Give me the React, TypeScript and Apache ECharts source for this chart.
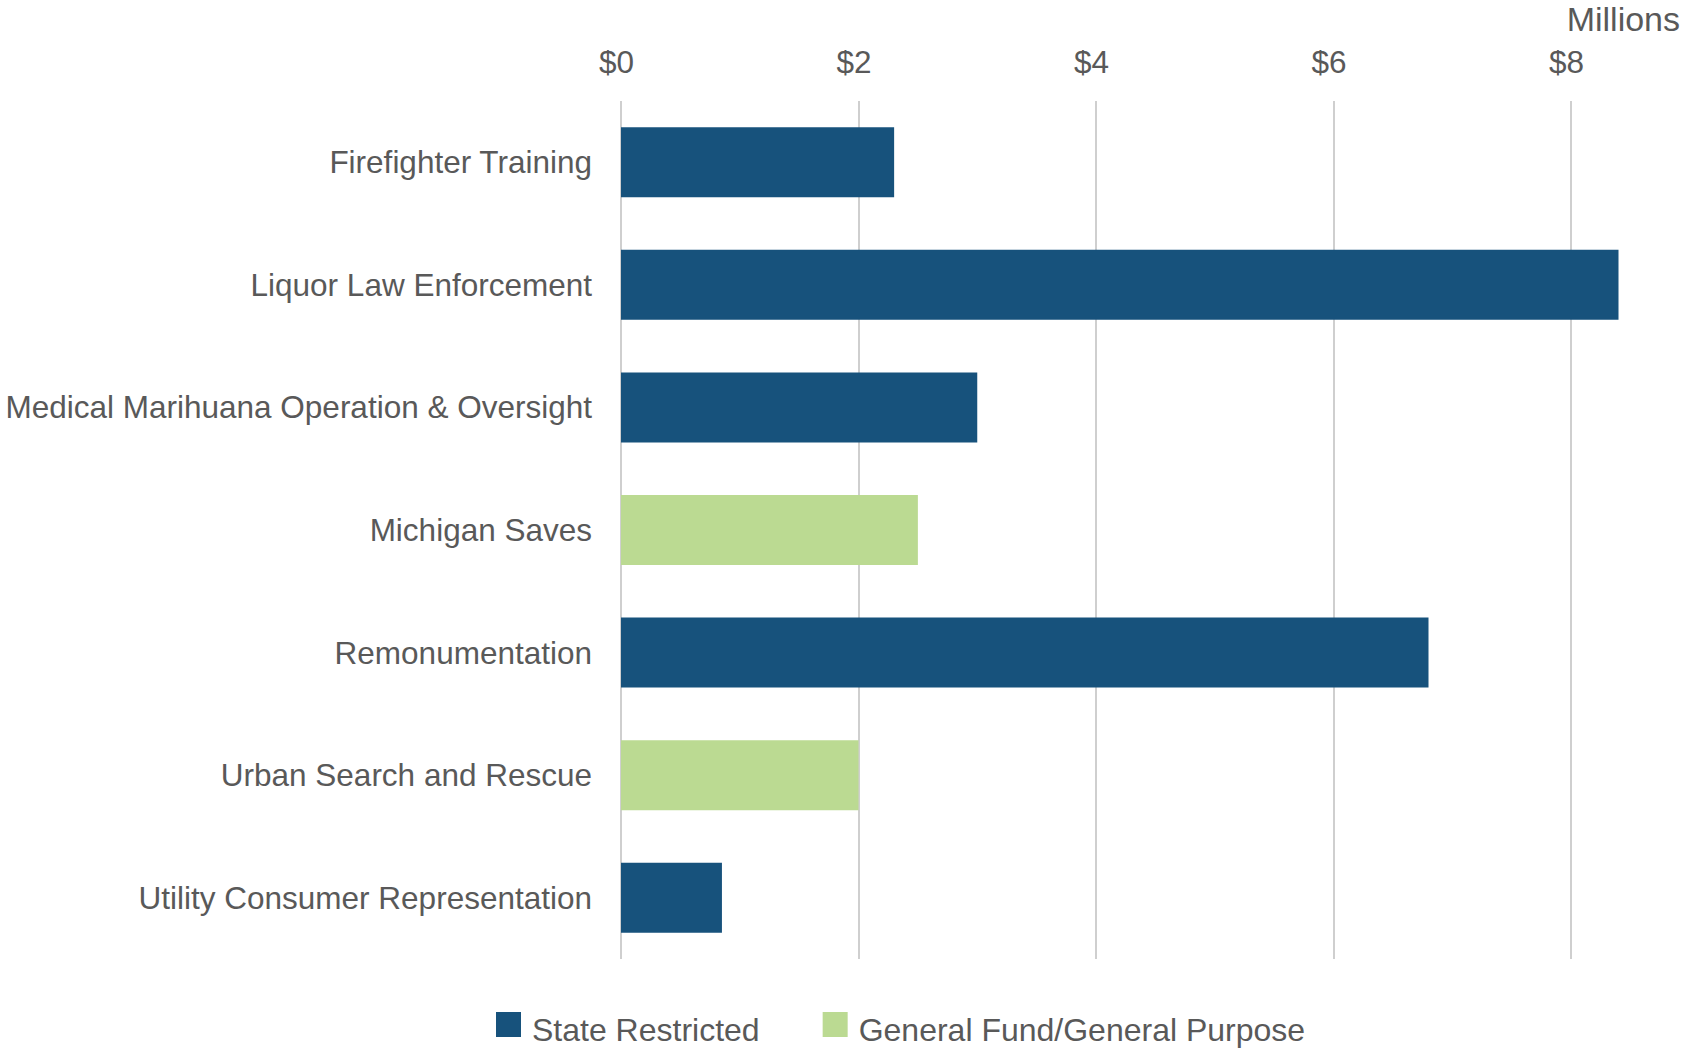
import React, { useEffect, useRef } from "react";
import * as echarts from "echarts";

const categories = [
  "Firefighter Training",
  "Liquor Law Enforcement",
  "Medical Marihuana Operation & Oversight",
  "Michigan Saves",
  "Remonumentation",
  "Urban Search and Rescue",
  "Utility Consumer Representation",
];
const stateRestricted: (number | null)[] = [2.3, 8.4, 3.0, null, 6.8, null, 0.85];
const generalFund: (number | null)[] = [null, null, null, 2.5, null, 2.0, null];
const seriesNames = ["State Restricted", "General Fund/General Purpose"];
const axisTitle = "Millions";

const BLUE = "#17527C";
const GREEN = "#BBDA92";
const TEXT = "#595959";
const FONT = "'Liberation Sans', Arial, sans-serif";
// square marker sitting in the upper part of a taller icon box, so the label sits a little lower
const LEGEND_ICON = "path://M0,0L25,0L25,25L0,25Z M0,35L0.01,35";

export default function App() {
  const ref = useRef<HTMLDivElement>(null);
  useEffect(() => {
    if (!ref.current) return;
    const chart = echarts.init(ref.current, null, { renderer: "svg" });
    chart.setOption({
      animation: false,
      backgroundColor: "#ffffff",
      textStyle: { fontFamily: FONT },
      grid: {
        left: 621,
        top: 101,
        height: 858,
        width: 1187.5,
        containLabel: false,
        outerBoundsMode: "none",
      },
      xAxis: {
        type: "value",
        position: "top",
        min: 0,
        max: 10,
        interval: 2,
        axisLine: { show: false },
        axisTick: { show: false },
        splitLine: { show: true, lineStyle: { color: "#BFBFBF", width: 1.5 } },
        axisLabel: {
          color: TEXT,
          fontSize: 31.5,
          fontFamily: FONT,
          margin: 23,
          padding: [0, 9, 0, 0],
          formatter: (v: number) => (v > 8 ? "" : "$" + v),
        },
      },
      yAxis: {
        type: "category",
        data: categories,
        inverse: true,
        axisLine: { show: false },
        axisTick: { show: false },
        splitLine: { show: false },
        axisLabel: { color: TEXT, fontSize: 31.5, fontFamily: FONT, margin: 29 },
      },
      legend: {
        data: seriesNames,
        left: 496,
        top: 1012,
        padding: 0,
        itemWidth: 25,
        itemHeight: 35,
        itemGap: 63,
        icon: LEGEND_ICON,
        textStyle: { color: TEXT, fontSize: 32, fontFamily: FONT, padding: [0, 0, 0, 6] },
      },
      graphic: [
        {
          type: "text",
          right: 5,
          top: 2,
          style: { text: axisTitle, fill: TEXT, fontSize: 34, fontFamily: FONT },
        },
      ],
      series: [
        {
          name: seriesNames[0],
          type: "bar",
          stack: "total",
          data: stateRestricted,
          barWidth: 70,
          itemStyle: { color: BLUE },
        },
        {
          name: seriesNames[1],
          type: "bar",
          stack: "total",
          data: generalFund,
          barWidth: 70,
          itemStyle: { color: GREEN },
        },
      ],
    });
    return () => chart.dispose();
  }, []);
  return (
    <div
      ref={ref}
      style={{ position: "fixed", left: 0, top: 0, width: 1685, height: 1050, overflow: "hidden" }}
    />
  );
}
